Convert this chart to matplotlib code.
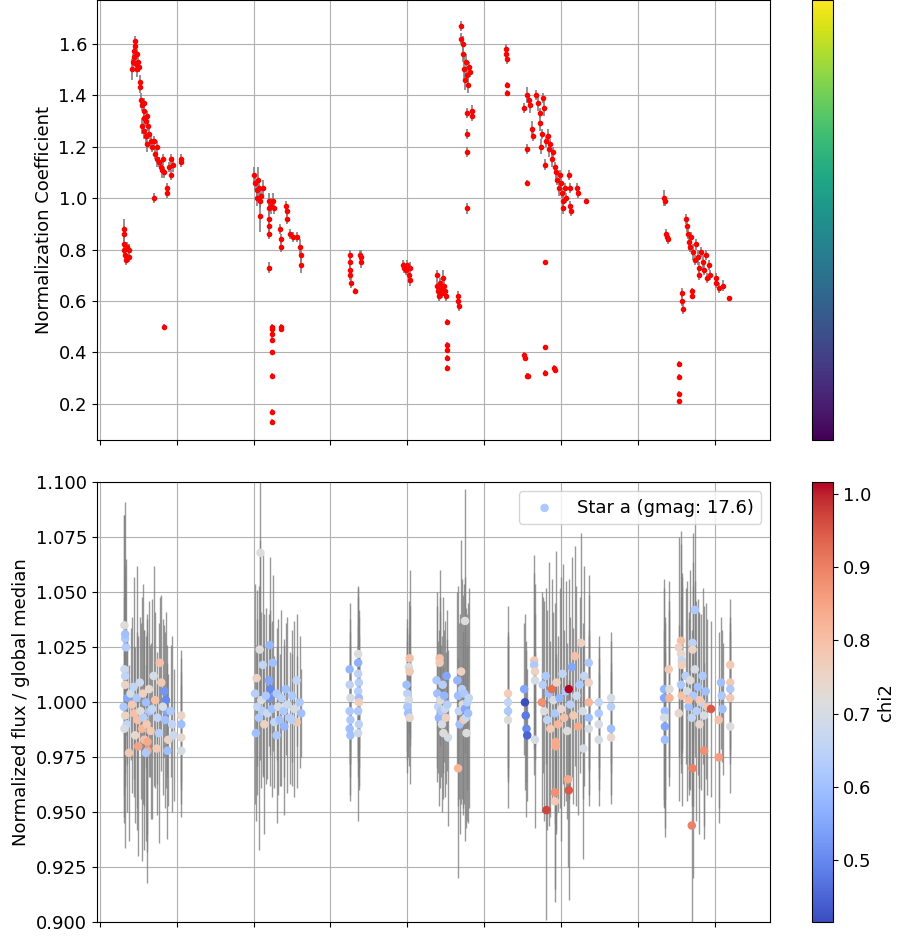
import numpy as np
import matplotlib
matplotlib.use("Agg")
import matplotlib.pyplot as plt
from matplotlib.ticker import MultipleLocator
from matplotlib.cm import ScalarMappable
from matplotlib.colors import Normalize

# --- top panel: normalization coefficient (x, coeff, err) ---
norm_g1 = [(0.31, 0.88, 0.04), (0.31, 0.86, 0.03), (0.32, 0.82, 0.03), (0.32, 0.80, 0.03),
           (0.33, 0.78, 0.02), (0.34, 0.76, 0.02), (0.36, 0.81, 0.02), (0.38, 0.80, 0.02),
           (0.38, 0.77, 0.02),
           (0.42, 1.50, 0.04), (0.43, 1.53, 0.03), (0.44, 1.55, 0.03), (0.45, 1.57, 0.03),
           (0.46, 1.61, 0.02), (0.46, 1.59, 0.02), (0.47, 1.52, 0.03), (0.48, 1.56, 0.02),
           (0.49, 1.50, 0.03), (0.50, 1.53, 0.02), (0.51, 1.51, 0.02), (0.52, 1.45, 0.03),
           (0.52, 1.43, 0.02), (0.53, 1.38, 0.03), (0.55, 1.36, 0.02), (0.58, 1.37, 0.02),
           (0.57, 1.34, 0.02), (0.55, 1.28, 0.03), (0.57, 1.31, 0.02), (0.58, 1.26, 0.03),
           (0.60, 1.30, 0.02), (0.62, 1.32, 0.02), (0.60, 1.24, 0.03), (0.63, 1.28, 0.02),
           (0.64, 1.25, 0.02), (0.62, 1.21, 0.03), (0.66, 1.22, 0.02), (0.68, 1.20, 0.02),
           (0.70, 1.22, 0.02), (0.72, 1.17, 0.02), (0.74, 1.20, 0.02), (0.75, 1.15, 0.03),
           (0.77, 1.14, 0.02), (0.79, 1.12, 0.02), (0.81, 1.11, 0.03), (0.82, 1.15, 0.02),
           (0.84, 1.10, 0.02), (0.71, 1.00, 0.02), (0.88, 1.02, 0.02), (0.88, 1.04, 0.02),
           (0.84, 0.50, 0.01), (0.90, 1.12, 0.02), (0.92, 1.15, 0.02), (0.93, 1.09, 0.02),
           (0.95, 1.13, 0.03), (1.05, 1.15, 0.02), (1.05, 1.14, 0.02)]
norm_g2 = [(2.01, 1.09, 0.03), (2.02, 1.06, 0.03), (2.04, 1.03, 0.04), (2.05, 1.00, 0.03),
           (2.06, 1.07, 0.05), (2.07, 1.04, 0.04), (2.08, 0.99, 0.03), (2.09, 0.93, 0.06),
           (2.10, 1.01, 0.03), (2.12, 1.04, 0.03), (2.20, 0.99, 0.03), (2.20, 0.96, 0.03),
           (2.20, 0.92, 0.03), (2.20, 0.89, 0.02), (2.20, 0.86, 0.02), (2.20, 0.73, 0.02),
           (2.23, 0.97, 0.03), (2.25, 0.99, 0.03), (2.26, 0.96, 0.02), (2.24, 0.50, 0.01),
           (2.24, 0.49, 0.01), (2.24, 0.47, 0.01), (2.24, 0.45, 0.01), (2.24, 0.40, 0.01),
           (2.24, 0.31, 0.01), (2.24, 0.17, 0.01), (2.24, 0.13, 0.01), (2.36, 0.49, 0.01),
           (2.36, 0.50, 0.01), (2.35, 0.88, 0.02), (2.36, 0.84, 0.02), (2.36, 0.81, 0.02),
           (2.42, 0.97, 0.02), (2.43, 0.95, 0.02), (2.43, 0.92, 0.02), (2.47, 0.86, 0.02),
           (2.51, 0.85, 0.02), (2.56, 0.85, 0.02), (2.61, 0.81, 0.03), (2.62, 0.78, 0.03),
           (2.62, 0.74, 0.03)]
norm_g3 = [(3.25, 0.78, 0.02), (3.25, 0.75, 0.02), (3.26, 0.72, 0.02), (3.26, 0.70, 0.02),
           (3.27, 0.67, 0.02), (3.32, 0.64, 0.01), (3.38, 0.78, 0.02), (3.40, 0.77, 0.03),
           (3.40, 0.75, 0.02),
           (3.94, 0.74, 0.02), (3.96, 0.73, 0.02), (3.98, 0.72, 0.02), (4.00, 0.74, 0.02),
           (4.02, 0.70, 0.03), (4.03, 0.68, 0.02), (4.03, 0.73, 0.02)]
norm_g4 = [(4.38, 0.70, 0.02), (4.39, 0.66, 0.02), (4.40, 0.64, 0.02), (4.41, 0.62, 0.02),
           (4.42, 0.67, 0.02), (4.44, 0.65, 0.02), (4.45, 0.63, 0.02), (4.46, 0.69, 0.03),
           (4.48, 0.66, 0.02), (4.49, 0.64, 0.02), (4.50, 0.62, 0.02), (4.51, 0.52, 0.01),
           (4.51, 0.43, 0.01), (4.51, 0.41, 0.01), (4.51, 0.38, 0.01), (4.51, 0.34, 0.01),
           (4.66, 0.62, 0.02), (4.66, 0.60, 0.02), (4.67, 0.58, 0.02),
           (4.70, 1.67, 0.02), (4.70, 1.62, 0.02), (4.72, 1.60, 0.03), (4.73, 1.56, 0.03),
           (4.74, 1.50, 0.05), (4.75, 1.46, 0.04), (4.76, 1.53, 0.03), (4.78, 1.48, 0.03),
           (4.79, 1.44, 0.03), (4.80, 1.51, 0.02), (4.81, 1.49, 0.02), (4.77, 1.33, 0.02),
           (4.77, 1.25, 0.02), (4.77, 1.18, 0.02), (4.77, 0.96, 0.02), (4.84, 1.34, 0.02),
           (4.84, 1.32, 0.02),
           (5.28, 1.58, 0.02), (5.28, 1.56, 0.02), (5.29, 1.54, 0.02), (5.29, 1.44, 0.01),
           (5.30, 1.41, 0.01)]
norm_g5 = [(5.52, 1.35, 0.02), (5.56, 1.40, 0.03), (5.58, 1.38, 0.02), (5.60, 1.36, 0.03),
           (5.56, 1.19, 0.02), (5.56, 1.06, 0.01), (5.62, 1.27, 0.03), (5.63, 1.24, 0.02),
           (5.68, 1.40, 0.02), (5.70, 1.37, 0.03), (5.72, 1.33, 0.02), (5.73, 1.29, 0.03),
           (5.74, 1.20, 0.03), (5.75, 1.25, 0.02), (5.77, 1.39, 0.02), (5.78, 1.35, 0.03),
           (5.80, 1.22, 0.02), (5.79, 1.13, 0.02), (5.79, 0.75, 0.01), (5.79, 0.42, 0.01),
           (5.79, 0.32, 0.01), (5.52, 0.39, 0.01), (5.53, 0.38, 0.01), (5.56, 0.31, 0.01),
           (5.57, 0.31, 0.01), (5.91, 0.34, 0.01), (5.92, 0.33, 0.01),
           (5.83, 1.24, 0.03), (5.84, 1.19, 0.03), (5.86, 1.21, 0.02), (5.88, 1.15, 0.03),
           (5.90, 1.18, 0.02), (5.92, 1.12, 0.02), (5.94, 1.10, 0.03), (5.95, 1.07, 0.02),
           (5.97, 1.04, 0.03), (5.98, 1.09, 0.02), (6.00, 1.06, 0.02), (6.01, 1.02, 0.02),
           (6.02, 0.99, 0.03), (6.03, 0.96, 0.02), (6.05, 1.04, 0.02), (6.06, 1.00, 0.02),
           (6.10, 1.09, 0.02), (6.11, 1.04, 0.02), (6.12, 0.97, 0.02), (6.13, 0.95, 0.02),
           (6.21, 1.04, 0.02), (6.22, 1.02, 0.02), (6.33, 0.99, 0.01)]
norm_g6 = [(7.34, 1.00, 0.03), (7.35, 0.99, 0.02), (7.36, 0.86, 0.02), (7.38, 0.85, 0.02),
           (7.39, 0.84, 0.02), (7.57, 0.63, 0.02), (7.57, 0.60, 0.02), (7.58, 0.57, 0.02),
           (7.53, 0.355, 0.01), (7.53, 0.305, 0.01), (7.53, 0.24, 0.01), (7.53, 0.21, 0.01),
           (7.63, 0.92, 0.02), (7.64, 0.89, 0.02), (7.65, 0.86, 0.02), (7.66, 0.83, 0.03),
           (7.68, 0.81, 0.02), (7.69, 0.85, 0.02), (7.70, 0.64, 0.01), (7.70, 0.62, 0.01),
           (7.72, 0.79, 0.03), (7.74, 0.76, 0.02), (7.76, 0.82, 0.02), (7.78, 0.77, 0.03),
           (7.79, 0.73, 0.02), (7.80, 0.70, 0.02), (7.82, 0.79, 0.02), (7.84, 0.75, 0.03),
           (7.86, 0.72, 0.02), (7.88, 0.78, 0.02), (7.90, 0.69, 0.02), (7.92, 0.74, 0.02),
           (7.94, 0.70, 0.02), (8.01, 0.69, 0.02), (8.02, 0.67, 0.02), (8.05, 0.65, 0.02),
           (8.10, 0.66, 0.02), (8.19, 0.61, 0.01)]

# --- bottom panel: normalized flux (x, flux, err, chi2) ---
flux_g1 = [(0.33, 1.029, 0.03, 0.62), (0.32, 1.035, 0.05, 0.72), (0.33, 1.031, 0.06, 0.60),
           (0.34, 1.025, 0.04, 0.63), (0.32, 1.015, 0.07, 0.68), (0.33, 1.012, 0.05, 0.66),
           (0.33, 1.008, 0.04, 0.75), (0.36, 1.002, 0.03, 0.55), (0.31, 0.998, 0.05, 0.62),
           (0.33, 0.994, 0.06, 0.75), (0.35, 0.990, 0.04, 0.66), (0.32, 0.988, 0.03, 0.70),
           (0.40, 1.004, 0.03, 0.70), (0.42, 0.999, 0.04, 0.78), (0.44, 1.007, 0.05, 0.66),
           (0.45, 0.995, 0.03, 0.80), (0.46, 0.985, 0.04, 0.74), (0.48, 1.002, 0.06, 0.62),
           (0.49, 0.992, 0.04, 0.80), (0.50, 0.980, 0.05, 0.85), (0.52, 1.009, 0.03, 0.68),
           (0.53, 0.996, 0.04, 0.72), (0.55, 0.988, 0.06, 0.82), (0.56, 1.004, 0.05, 0.76),
           (0.57, 0.993, 0.04, 0.64), (0.58, 0.983, 0.05, 0.80), (0.60, 1.000, 0.03, 0.60),
           (0.61, 0.990, 0.05, 0.78), (0.62, 0.978, 0.06, 0.84), (0.64, 1.006, 0.04, 0.74),
           (0.65, 0.996, 0.03, 0.62), (0.66, 0.987, 0.04, 0.78), (0.68, 0.997, 0.05, 0.66),
           (0.38, 0.977, 0.04, 0.78), (0.60, 0.977, 0.04, 0.62), (0.74, 0.979, 0.03, 0.78),
           (0.62, 0.982, 0.05, 0.84), (0.78, 1.018, 0.03, 0.80), (0.80, 1.009, 0.04, 0.78),
           (0.84, 1.005, 0.03, 0.52), (0.86, 1.001, 0.04, 0.50), (0.87, 0.996, 0.03, 0.55),
           (0.85, 0.992, 0.04, 0.60), (0.89, 0.983, 0.03, 0.75), (0.88, 0.978, 0.04, 0.60),
           (0.70, 1.012, 0.05, 0.70), (0.72, 1.001, 0.04, 0.80), (0.75, 0.993, 0.03, 0.66),
           (0.77, 0.986, 0.05, 0.64), (0.82, 0.998, 0.04, 0.70), (0.92, 0.996, 0.03, 0.62),
           (0.94, 0.990, 0.04, 0.66), (0.96, 0.985, 0.03, 0.68), (1.06, 0.994, 0.03, 0.75),
           (1.06, 0.990, 0.03, 0.60), (1.06, 0.984, 0.03, 0.74), (1.06, 0.978, 0.03, 0.70)]
flux_g2 = [(2.09, 1.068, 0.07, 0.72), (2.08, 1.024, 0.05, 0.72), (2.21, 1.026, 0.04, 0.58),
           (2.25, 1.018, 0.04, 0.60), (2.12, 1.017, 0.05, 0.66), (2.04, 1.011, 0.04, 0.76),
           (2.20, 1.010, 0.03, 0.55), (2.22, 1.006, 0.03, 0.50), (2.21, 1.002, 0.04, 0.52),
           (2.02, 1.004, 0.05, 0.64), (2.05, 0.998, 0.04, 0.66), (2.07, 0.993, 0.06, 0.62),
           (2.10, 1.001, 0.04, 0.70), (2.12, 0.996, 0.03, 0.64), (2.14, 0.990, 0.05, 0.76),
           (2.16, 1.003, 0.04, 0.62), (2.18, 0.995, 0.03, 0.68), (2.24, 0.997, 0.04, 0.60),
           (2.27, 0.991, 0.03, 0.66), (2.30, 1.004, 0.03, 0.62), (2.32, 0.998, 0.04, 0.70),
           (2.34, 0.992, 0.03, 0.60), (2.36, 1.002, 0.04, 0.64), (2.39, 0.996, 0.03, 0.62),
           (2.42, 1.006, 0.03, 0.60), (2.44, 0.999, 0.04, 0.68), (2.47, 0.993, 0.03, 0.64),
           (2.50, 1.003, 0.03, 0.62), (2.53, 0.997, 0.04, 0.70), (2.56, 0.991, 0.03, 0.78),
           (2.56, 1.010, 0.03, 0.66), (2.60, 1.000, 0.03, 0.62), (2.62, 0.995, 0.02, 0.60),
           (2.03, 0.986, 0.04, 0.60), (2.30, 0.985, 0.04, 0.62), (2.40, 0.989, 0.04, 0.58),
           (2.50, 0.992, 0.03, 0.64)]
flux_g3 = [(3.25, 1.015, 0.03, 0.58), (3.25, 1.008, 0.03, 0.65), (3.26, 1.002, 0.03, 0.70),
           (3.25, 0.996, 0.03, 0.62), (3.26, 0.992, 0.02, 0.62), (3.25, 0.988, 0.03, 0.60),
           (3.26, 0.985, 0.03, 0.60), (3.36, 1.022, 0.03, 0.72), (3.36, 1.018, 0.03, 0.57),
           (3.36, 1.013, 0.04, 0.65), (3.37, 1.009, 0.03, 0.64), (3.36, 1.005, 0.03, 0.64),
           (3.37, 1.002, 0.04, 0.60), (3.37, 1.000, 0.03, 0.77), (3.36, 0.996, 0.03, 0.62),
           (3.37, 0.990, 0.03, 0.65), (3.36, 0.986, 0.04, 0.68),
           (4.03, 1.020, 0.04, 0.80), (4.02, 1.016, 0.03, 0.70), (4.03, 1.014, 0.03, 0.78),
           (3.99, 1.008, 0.03, 0.60), (4.00, 1.004, 0.03, 0.65), (4.02, 1.001, 0.03, 0.70),
           (4.00, 0.998, 0.03, 0.62), (4.01, 0.995, 0.02, 0.60), (4.03, 0.993, 0.03, 0.74)]
flux_g4 = [(4.38, 1.010, 0.04, 0.62), (4.39, 1.004, 0.04, 0.60), (4.40, 0.998, 0.03, 0.66),
           (4.41, 0.993, 0.04, 0.58), (4.42, 1.020, 0.04, 0.80), (4.42, 1.018, 0.03, 0.78),
           (4.43, 1.001, 0.04, 0.72), (4.44, 0.996, 0.03, 0.62), (4.45, 0.990, 0.04, 0.70),
           (4.46, 1.008, 0.04, 0.64), (4.47, 0.986, 0.03, 0.72), (4.48, 1.003, 0.03, 0.58),
           (4.49, 0.997, 0.04, 0.68), (4.50, 0.993, 0.03, 0.76), (4.51, 1.012, 0.03, 0.55),
           (4.52, 0.999, 0.03, 0.64), (4.53, 0.984, 0.04, 0.70), (4.66, 0.970, 0.05, 0.82),
           (4.75, 1.037, 0.06, 0.72), (4.65, 1.010, 0.04, 0.58), (4.66, 1.003, 0.05, 0.60),
           (4.67, 0.996, 0.04, 0.66), (4.68, 0.990, 0.05, 0.60), (4.70, 1.014, 0.06, 0.76),
           (4.71, 1.006, 0.05, 0.64), (4.72, 0.999, 0.05, 0.72), (4.73, 0.992, 0.04, 0.78),
           (4.74, 1.004, 0.05, 0.62), (4.75, 0.997, 0.06, 0.55), (4.76, 0.993, 0.05, 0.68),
           (4.78, 1.000, 0.04, 0.64), (4.79, 0.995, 0.05, 0.60), (4.80, 1.002, 0.05, 0.66),
           (4.77, 0.986, 0.04, 0.72)]
flux_g5 = [(5.31, 1.004, 0.04, 0.77), (5.31, 1.000, 0.03, 0.66), (5.31, 0.996, 0.03, 0.62),
           (5.31, 0.992, 0.04, 0.72), (5.52, 1.006, 0.03, 0.55), (5.53, 1.000, 0.04, 0.415),
           (5.54, 0.994, 0.03, 0.48), (5.55, 0.988, 0.04, 0.50), (5.56, 0.985, 0.03, 0.45),
           (5.65, 1.019, 0.04, 0.78), (5.65, 1.017, 0.05, 0.62), (5.66, 1.014, 0.04, 0.76),
           (5.66, 1.010, 0.03, 0.70), (5.66, 0.983, 0.04, 0.70), (5.75, 1.000, 0.05, 0.88),
           (5.76, 1.008, 0.04, 0.64), (5.78, 0.996, 0.05, 0.72), (5.80, 1.012, 0.04, 0.62),
           (5.82, 0.992, 0.05, 0.66), (5.84, 1.004, 0.06, 0.60), (5.86, 0.988, 0.04, 0.78),
           (5.88, 1.006, 0.05, 0.92), (5.90, 1.001, 0.04, 0.70), (5.92, 0.995, 0.05, 0.62),
           (5.94, 1.009, 0.06, 0.76), (5.96, 0.990, 0.04, 0.82), (5.98, 1.002, 0.05, 0.58),
           (6.00, 0.997, 0.06, 0.74), (6.02, 1.013, 0.05, 0.66), (6.04, 0.993, 0.04, 0.80),
           (6.06, 1.005, 0.05, 0.62), (6.08, 0.987, 0.04, 0.72), (6.10, 1.006, 0.05, 1.016),
           (6.12, 0.999, 0.04, 0.64), (6.14, 1.016, 0.05, 0.55), (6.16, 0.994, 0.04, 0.78),
           (6.18, 1.021, 0.05, 0.80), (6.20, 1.003, 0.05, 0.68), (6.22, 0.989, 0.04, 0.84),
           (6.24, 1.008, 0.04, 0.62), (6.26, 1.027, 0.05, 0.76), (6.28, 0.996, 0.04, 0.70),
           (6.29, 0.979, 0.05, 0.70), (6.30, 1.012, 0.05, 0.66), (5.93, 0.982, 0.04, 0.84),
           (5.93, 0.980, 0.04, 0.84), (6.09, 0.965, 0.04, 0.84), (6.10, 0.960, 0.05, 0.95),
           (5.92, 0.959, 0.05, 0.88), (5.92, 0.955, 0.04, 0.78), (5.81, 0.951, 0.05, 0.97),
           (6.36, 1.018, 0.04, 0.62), (6.36, 1.009, 0.04, 0.76), (6.36, 1.000, 0.03, 0.82),
           (6.36, 0.993, 0.04, 0.60), (6.36, 0.988, 0.03, 0.70), (6.49, 1.000, 0.03, 0.66),
           (6.49, 0.995, 0.03, 0.62), (6.49, 0.990, 0.03, 0.70), (6.49, 0.983, 0.03, 0.70),
           (6.65, 1.002, 0.03, 0.70), (6.65, 0.998, 0.03, 0.64), (6.65, 0.988, 0.03, 0.60),
           (6.65, 0.984, 0.03, 0.74)]
flux_g6 = [(7.34, 1.006, 0.05, 0.58), (7.34, 1.002, 0.05, 0.55), (7.35, 0.996, 0.04, 0.60),
           (7.34, 0.993, 0.04, 0.70), (7.35, 0.989, 0.05, 0.55), (7.35, 0.983, 0.04, 0.60),
           (7.40, 1.015, 0.04, 0.78), (7.41, 1.006, 0.04, 0.72), (7.41, 1.002, 0.04, 0.82),
           (7.56, 1.028, 0.05, 0.80), (7.56, 1.022, 0.05, 0.74), (7.57, 1.019, 0.04, 0.66),
           (7.57, 1.017, 0.04, 0.77), (7.56, 1.008, 0.04, 0.62), (7.57, 1.003, 0.05, 0.80),
           (7.53, 1.025, 0.05, 0.76), (7.53, 0.995, 0.04, 0.74), (7.71, 1.027, 0.05, 0.65),
           (7.71, 1.024, 0.04, 0.75), (7.74, 1.042, 0.05, 0.62), (7.62, 1.012, 0.04, 0.64),
           (7.64, 1.005, 0.05, 0.70), (7.66, 0.998, 0.04, 0.60), (7.68, 1.010, 0.05, 0.72),
           (7.70, 0.993, 0.04, 0.66), (7.72, 1.003, 0.05, 0.62), (7.74, 1.015, 0.04, 0.70),
           (7.76, 0.996, 0.05, 0.64), (7.78, 1.007, 0.04, 0.60), (7.80, 0.990, 0.05, 0.74),
           (7.82, 1.000, 0.04, 0.66), (7.84, 1.012, 0.04, 0.62), (7.86, 0.994, 0.05, 0.70),
           (7.88, 1.005, 0.04, 0.60), (7.90, 0.998, 0.04, 0.78), (7.66, 1.001, 0.04, 0.80),
           (7.80, 1.001, 0.04, 0.78), (7.86, 0.978, 0.04, 0.88), (7.71, 0.970, 0.05, 0.90),
           (7.70, 0.944, 0.05, 0.90), (7.95, 0.997, 0.04, 0.95), (8.05, 0.975, 0.03, 0.86),
           (8.05, 0.992, 0.04, 0.80), (8.08, 1.009, 0.03, 0.60), (8.09, 1.003, 0.03, 0.62),
           (8.10, 0.997, 0.03, 0.60), (8.20, 1.017, 0.03, 0.78), (8.20, 1.009, 0.03, 0.78),
           (8.20, 1.006, 0.03, 0.62), (8.20, 1.002, 0.03, 0.78), (8.20, 0.989, 0.03, 0.72)]

star_label = "Star a (gmag: 17.6)"

norm = np.array(norm_g1 + norm_g2 + norm_g3 + norm_g4 + norm_g5 + norm_g6)
flux = np.array(flux_g1 + flux_g2 + flux_g3 + flux_g4 + flux_g5 + flux_g6)

plt.rcParams['font.size'] = 13

fig = plt.figure(figsize=(9.04, 9.44), dpi=100)
ax1 = fig.add_axes([0.107, 0.534, 0.745, 0.466])
cax1 = fig.add_axes([0.898, 0.534, 0.024, 0.466])
ax2 = fig.add_axes([0.107, 0.023, 0.745, 0.466])
cax2 = fig.add_axes([0.898, 0.023, 0.024, 0.466])

# --- верх: коэффициенты нормировки ---
ax1.errorbar(norm[:, 0], norm[:, 1], yerr=norm[:, 2], fmt='o', color='red',
             ecolor='grey', elinewidth=1.2, markersize=3, zorder=3)
ax1.set_ylabel("Normalization Coefficient")
ax1.set_xlim(-0.04, 8.72)
ax1.set_ylim(0.06, 1.77)
ax1.xaxis.set_major_locator(MultipleLocator(1))
ax1.set_xticklabels([])
ax1.grid(True)
ax1.set_axisbelow(True)
cb1 = fig.colorbar(ScalarMappable(norm=Normalize(0, 1), cmap='viridis'), cax=cax1)
cb1.set_ticks([])

# --- низ: нормированный поток ---
ax2.errorbar(flux[:, 0], flux[:, 1], yerr=flux[:, 2], fmt='none',
             ecolor='grey', elinewidth=1, alpha=0.8, zorder=2)
sc = ax2.scatter(flux[:, 0], flux[:, 1], c=flux[:, 3], cmap='coolwarm', s=26,
                 zorder=3, label=star_label)
ax2.set_ylabel("Normalized flux / global median")
ax2.set_xlim(-0.04, 8.72)
ax2.set_ylim(0.9, 1.1)
ax2.xaxis.set_major_locator(MultipleLocator(1))
ax2.set_xticklabels([])
ax2.grid(True)
ax2.set_axisbelow(True)
ax2.legend(loc='upper right')
cb2 = fig.colorbar(sc, cax=cax2)
cb2.set_label("chi2")

fig.savefig("out.png", dpi=100)
